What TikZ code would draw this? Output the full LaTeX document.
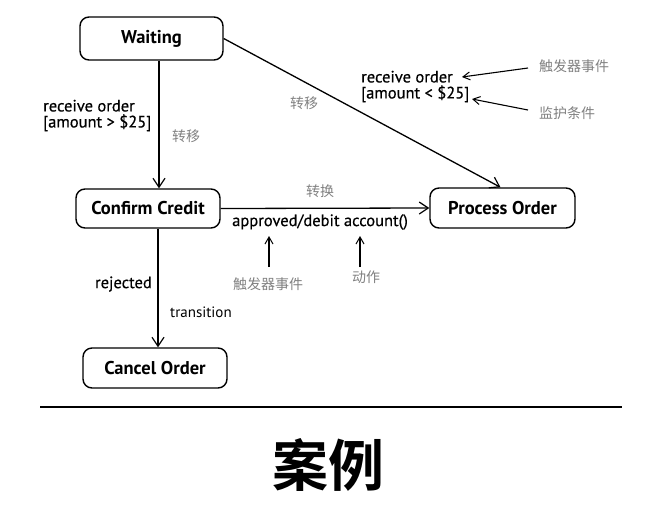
\documentclass[tikz,border=0pt]{standalone}
\usepackage{fontspec}
\setmainfont{PT Sans}
\newfontfamily\semib[FakeBold=0.5]{PT Sans}
\newfontfamily\cjk{Noto Sans CJK SC}
\newfontfamily\cjkb{Noto Sans CJK SC Bold}
\usetikzlibrary{arrows.meta}
\begin{document}
\begin{tikzpicture}[x=1pt,y=-1pt,
  state/.style={draw,line width=1.4pt,rounded corners=9pt,font=\fontsize{18.5}{20}\selectfont\bfseries,inner sep=0pt},
  arr/.style={line width=1.3pt,-{Straight Barb[length=9pt,width=12pt,line width=1.2pt]}},
  ann/.style={line width=1.1pt,-{Straight Barb[length=7pt,width=8pt,line width=1pt]}},
  lbl/.style={font=\semib\fontsize{16.5}{17}\selectfont,inner sep=0pt,align=left},
  note/.style={font=\cjk\fontsize{14}{15}\selectfont,text=black!50,inner sep=0pt}]
\useasboundingbox (0,0) rectangle (661,515);
\node[state,minimum width=143pt,minimum height=43pt] (W) at (151.5,38.5) {Waiting};
\node[state,minimum width=144pt,minimum height=39pt] (C) at (148,208.5) {Confirm Credit};
\node[state,minimum width=145pt,minimum height=40pt] (P) at (502.5,208) {Process Order};
\node[state,minimum width=144pt,minimum height=40pt] (X) at (155,368) {Cancel Order};
\coordinate (x1) at (159,0);
\coordinate (x2) at (158,0);
\draw[arr] (W.south -| x1) -- (C.north -| x1);
\draw[arr] (W.east) -- ([xshift=-2pt]P.north);
\draw[arr] (C.east) -- (P.west);
\draw[arr] (C.south -| x2) -- (X.north -| x2);
% labels
\node[lbl,anchor=west] (l1) at (43,115.5) {receive order\\[-1pt][amount > \$25]};
\node[note] (n1) at (186,136) {转移};
\node[note] (n2) at (304,103) {转移};
\node[lbl,anchor=west] (l2) at (361,86.5) {receive order\\[-1pt][amount < \$25]};
\node[note,anchor=west] (n3) at (539,66) {触发器事件};
\node[note,anchor=west] (n4) at (539,113) {监护条件};
\coordinate (a3s) at (528,68);
\coordinate (a3e) at (462,77);
\coordinate (a4s) at (528,110);
\coordinate (a4e) at (472,99);
\draw[ann] (a3s) -- (a3e);
\draw[ann] (a4s) -- (a4e);
\node[note] (n5) at (320,191) {转换};
\node[lbl,anchor=west] (l3) at (232,222) {approved/debit account()};
\coordinate (a5s) at (269,267);
\coordinate (a5e) at (269,236);
\coordinate (a6s) at (360,267);
\coordinate (a6e) at (360,236);
\draw[ann] (a5s) -- (a5e);
\draw[ann] (a6s) -- (a6e);
\node[note] (n6) at (268,284) {触发器事件};
\node[note] (n7) at (366,277) {动作};
\node[lbl,anchor=east] (l4) at (152,284) {rejected};
\node[lbl,anchor=west,font=\fontsize{15}{16}\selectfont] (l5) at (170,312) {transition};
\coordinate (h1) at (40,407);
\coordinate (h2) at (622,407);
\draw[line width=1.8pt] (h1) -- (h2);
\node[font=\cjkb\fontsize{56}{60}\selectfont,inner sep=0pt] (t) at (328,465) {案例};
\end{tikzpicture}
\end{document}
